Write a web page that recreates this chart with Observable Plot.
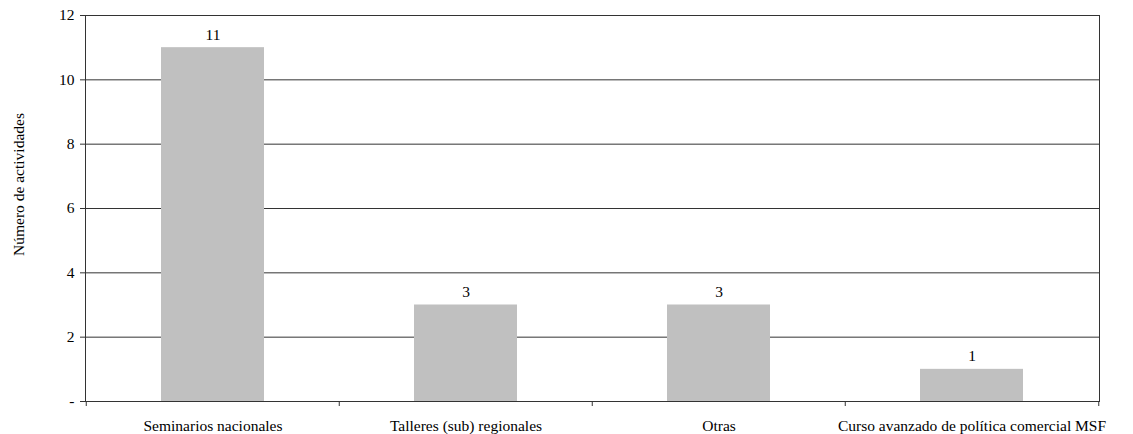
<!DOCTYPE html>
<html>
<head>
<meta charset="utf-8">
<script src="https://cdn.jsdelivr.net/npm/d3@7"></script>
<script src="https://cdn.jsdelivr.net/npm/@observablehq/plot@0.6"></script>
<style>
  html, body { margin: 0; padding: 0; background: #fff; }
  #chart svg { display: block; }
</style>
</head>
<body>
<div id="chart"></div>
<script>
const categories = ["Seminarios nacionales", "Talleres (sub) regionales", "Otras", "Curso avanzado de política comercial MSF"];
const values = [11, 3, 3, 1];
const yTicks = [0, 2, 4, 6, 8, 10, 12];
const yLabel = "Número de actividades";

const data = categories.map((c, i) => ({category: c, value: values[i]}));

const W = 1133, H = 434;
const mL = 85, mR = 34, mT = 15, mB = 33;
const half = (W - mL - mR) / categories.length / 2;
const font = "'Liberation Serif', 'Times New Roman', serif";

const chart = Plot.plot({
  width: W,
  height: H,
  marginLeft: mL,
  marginRight: mR,
  marginTop: mT,
  marginBottom: mB,
  style: {fontFamily: font, fontSize: "15.5px", color: "#000", background: "#fff", overflow: "visible"},
  x: {domain: categories, padding: 0, label: null},
  y: {domain: [0, 12], label: null},
  marks: [
    Plot.ruleY(yTicks, {stroke: "#333", strokeWidth: 1}),
    Plot.barY(data, {x: "category", y: "value", fill: "#c0c0c0", insetLeft: 75, insetRight: 75}),
    Plot.text(data, {x: "category", y: "value", text: d => String(d.value), dy: -13, fill: "#000"}),
    Plot.frame({stroke: "#333", strokeWidth: 1}),
    Plot.axisY({ticks: yTicks, tickSize: 5, tickPadding: 6, tickFormat: d => d === 0 ? "-" : String(d), stroke: "#333", fill: "#000", label: null}),
    Plot.axisX({tickSize: 0, tickPadding: 18, fill: "#000", label: null}),
    Plot.axisX({tickSize: 5, tickFormat: () => "", stroke: "#333", dx: -half, label: null}),
    Plot.axisX({ticks: [categories[categories.length - 1]], tickSize: 5, tickFormat: () => "", stroke: "#333", dx: half, label: null}),
    Plot.text([yLabel], {frameAnchor: "left", textAnchor: "middle", dx: -66, dy: -24, rotate: -90, text: d => d, fill: "#000"})
  ]
});
document.getElementById("chart").appendChild(chart);
</script>
</body>
</html>
